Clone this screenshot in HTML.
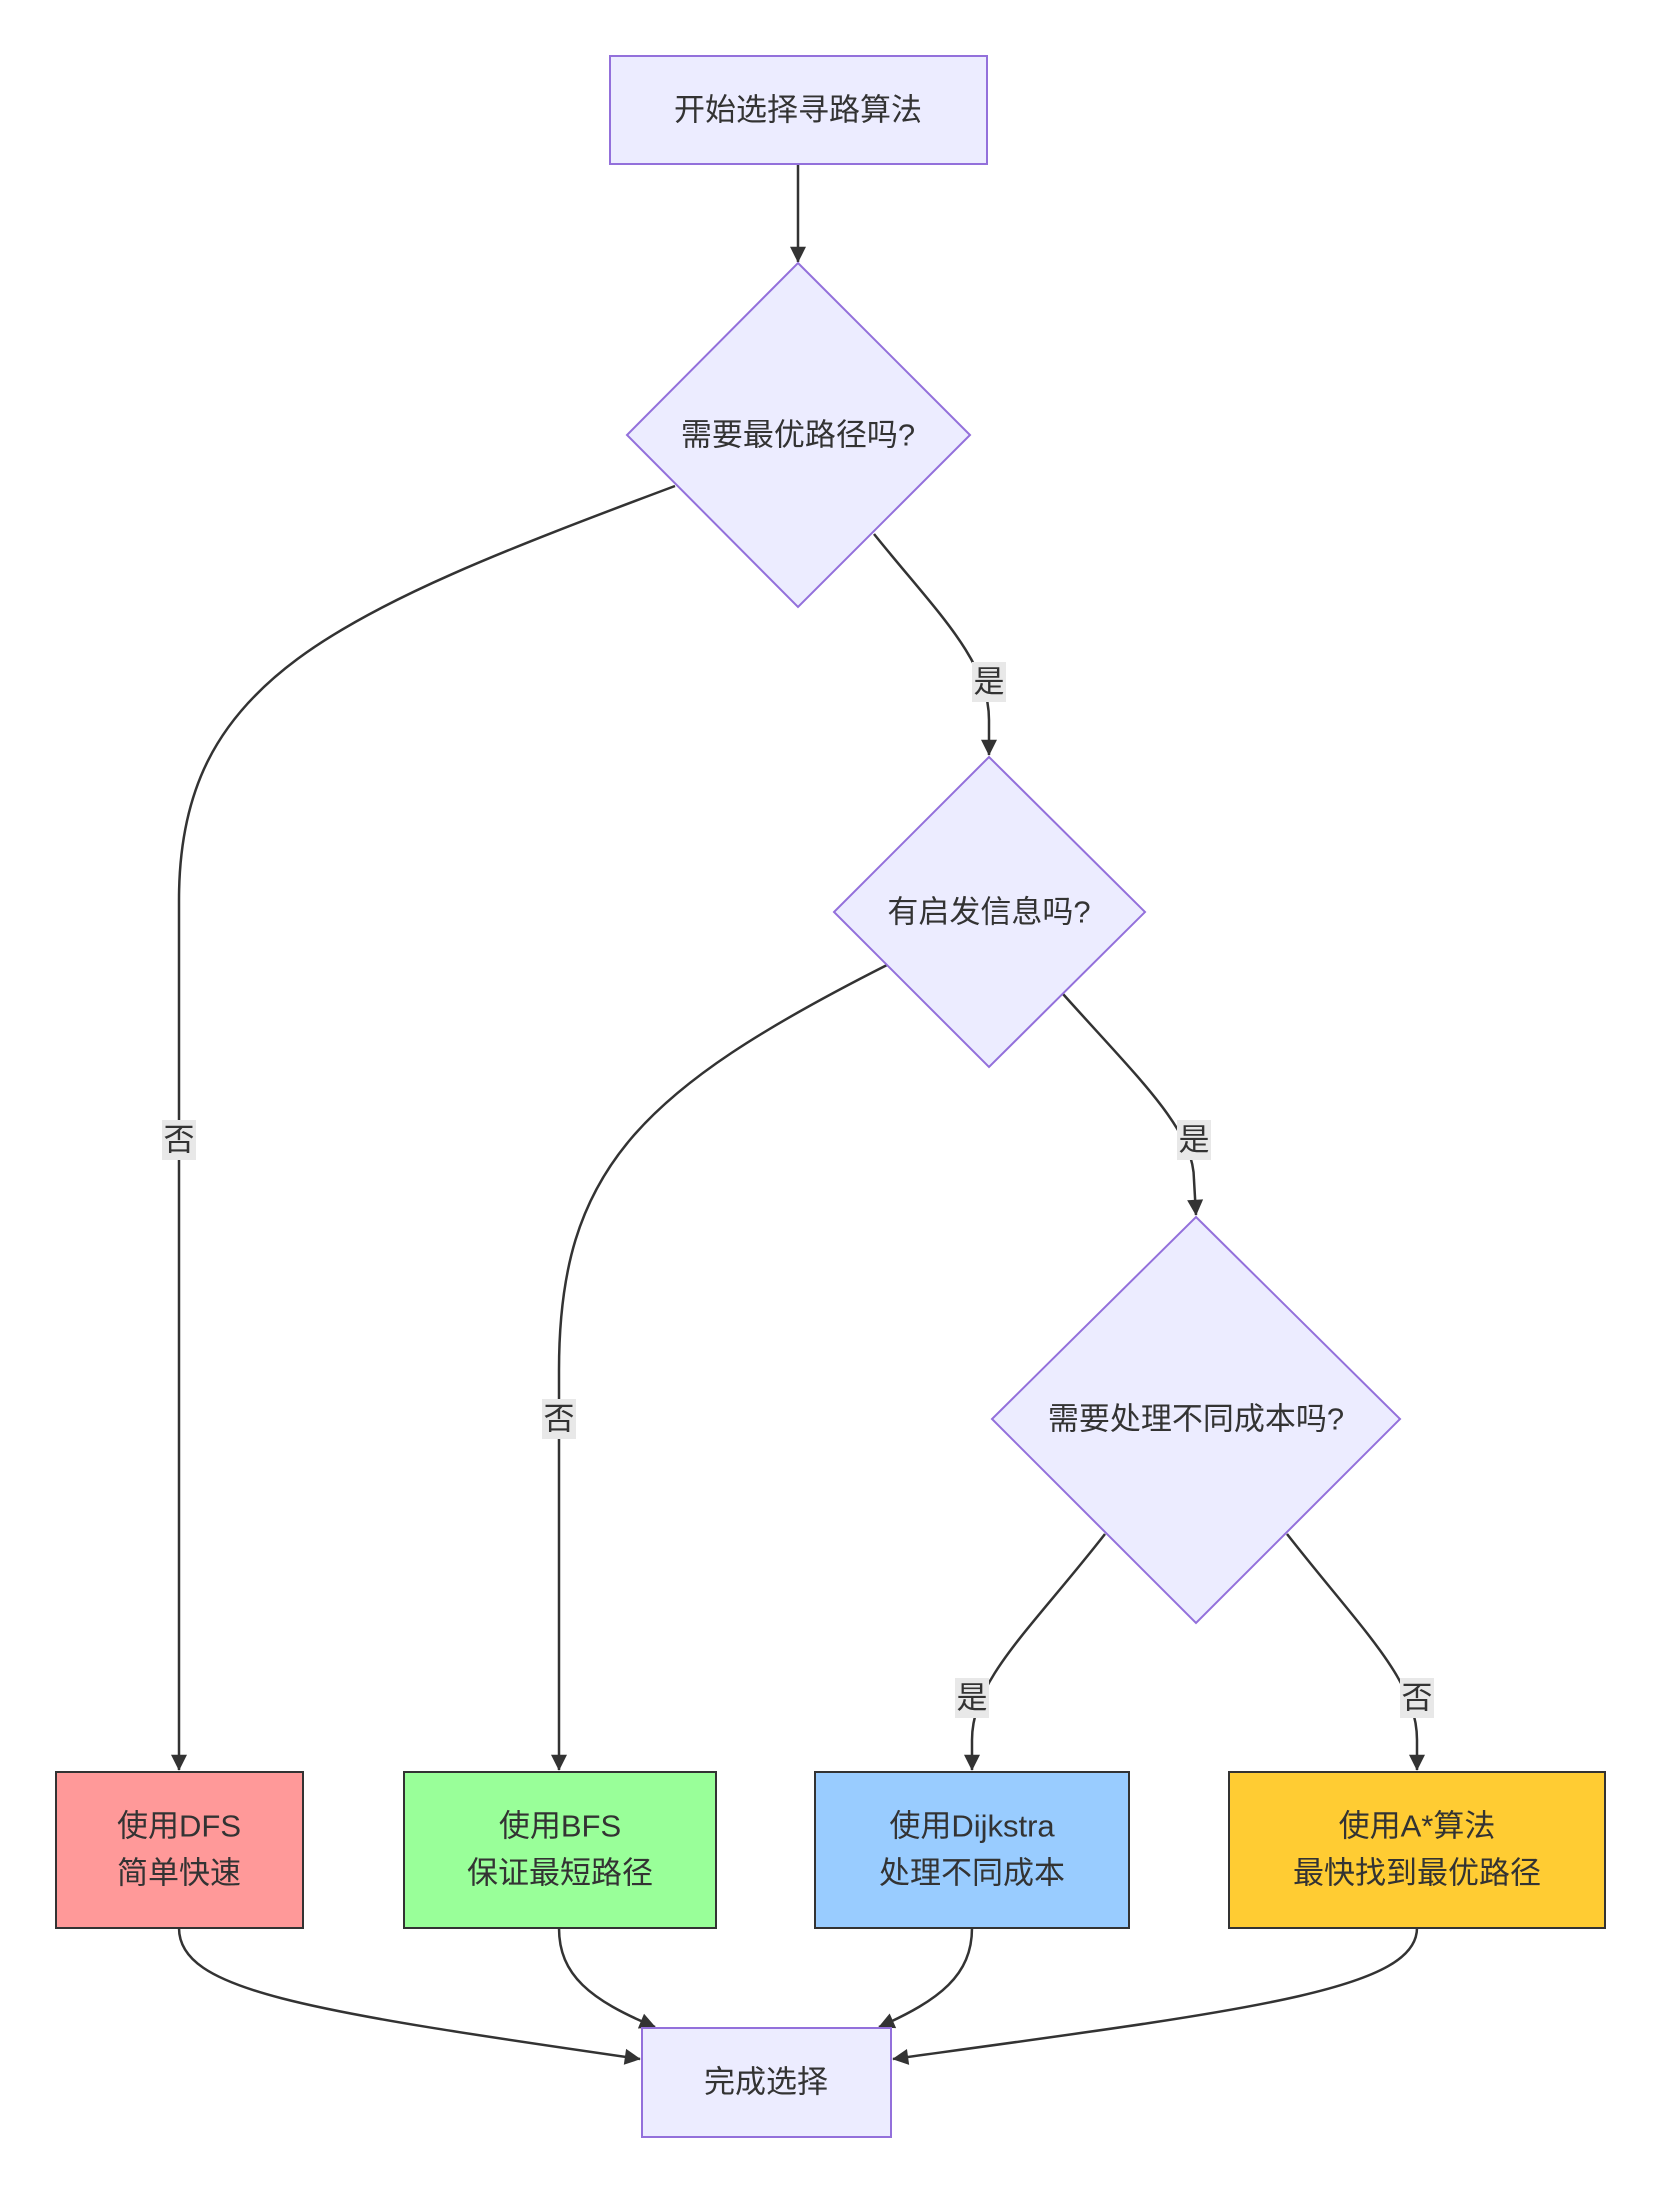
<!DOCTYPE html>
<html><head><meta charset="utf-8"><style>
html,body{margin:0;padding:0;background:#fff;}
svg{display:block;}
text{font-family:"Liberation Sans","Noto Sans CJK SC",sans-serif;fill:#333;font-size:31px;text-anchor:middle;dominant-baseline:central;}
.e{fill:none;stroke:#333;stroke-width:2.5;}
.lb{fill:#e8e8e8;}
</style></head><body>
<svg width="1660" height="2191" viewBox="0 0 1660 2191" xmlns="http://www.w3.org/2000/svg">
<defs><marker id="a" viewBox="0 0 10 10" refX="9" refY="5" markerWidth="8" markerHeight="8" markerUnits="userSpaceOnUse" orient="auto" style="overflow:visible"><path d="M0,0 L10,5 L0,10 z" fill="#333" transform="scale(2)" transform-origin="10 5"/></marker></defs>

<!-- edges -->
<path class="e" d="M798,164 L798,262" marker-end="url(#a)"/>
<path class="e" d="M675,486 C330,615 179,680 179,900 L179,1770" marker-end="url(#a)"/>
<path class="e" d="M874,534 C935,610 989,660 989,720 L989,755" marker-end="url(#a)"/>
<path class="e" d="M887,965 C640,1090 559,1170 559,1370 L559,1770" marker-end="url(#a)"/>
<path class="e" d="M1063,994 C1140,1080 1194,1130 1194,1180 L1196,1215" marker-end="url(#a)"/>
<path class="e" d="M1105,1534 C1030,1630 972,1680 972,1740 L972,1770" marker-end="url(#a)"/>
<path class="e" d="M1287,1534 C1362,1630 1417,1680 1417,1740 L1417,1770" marker-end="url(#a)"/>
<path class="e" d="M179,1928 C179,1990 300,2010 640,2059" marker-end="url(#a)"/>
<path class="e" d="M559,1928 C559,1975 590,2000 655,2027" marker-end="url(#a)"/>
<path class="e" d="M972,1928 C972,1975 940,2000 879,2027" marker-end="url(#a)"/>
<path class="e" d="M1417,1928 C1417,1990 1250,2010 893,2059" marker-end="url(#a)"/>

<!-- edge labels -->
<rect class="lb" x="972" y="662" width="34" height="40"/><text x="989" y="682">是</text>
<rect class="lb" x="162" y="1120" width="34" height="40"/><text x="179" y="1140">否</text>
<rect class="lb" x="1177" y="1120" width="34" height="40"/><text x="1194" y="1140">是</text>
<rect class="lb" x="542" y="1399" width="34" height="40"/><text x="559" y="1419">否</text>
<rect class="lb" x="955" y="1678" width="34" height="40"/><text x="972" y="1698">是</text>
<rect class="lb" x="1400" y="1678" width="34" height="40"/><text x="1417" y="1698">否</text>

<!-- nodes -->
<rect x="610" y="56" width="377" height="108" fill="#ECECFF" stroke="#9370DB" stroke-width="2"/>
<text x="798" y="110">开始选择寻路算法</text>

<polygon points="798,263 970,435 798,607 627,435" fill="#ECECFF" stroke="#9370DB" stroke-width="2"/>
<text x="798" y="435">需要最优路径吗?</text>

<polygon points="989,757 1145,912 989,1067 834,912" fill="#ECECFF" stroke="#9370DB" stroke-width="2"/>
<text x="989" y="912">有启发信息吗?</text>

<polygon points="1196,1217 1400,1419 1196,1623 992,1419" fill="#ECECFF" stroke="#9370DB" stroke-width="2"/>
<text x="1196" y="1419">需要处理不同成本吗?</text>

<rect x="56" y="1772" width="247" height="156" fill="#FF9999" stroke="#333" stroke-width="2"/>
<text x="179" y="1826">使用DFS</text><text x="179" y="1873">简单快速</text>

<rect x="404" y="1772" width="312" height="156" fill="#99FF99" stroke="#333" stroke-width="2"/>
<text x="560" y="1826">使用BFS</text><text x="560" y="1873">保证最短路径</text>

<rect x="815" y="1772" width="314" height="156" fill="#99CCFF" stroke="#333" stroke-width="2"/>
<text x="972" y="1826">使用Dijkstra</text><text x="972" y="1873">处理不同成本</text>

<rect x="1229" y="1772" width="376" height="156" fill="#FFCC33" stroke="#333" stroke-width="2"/>
<text x="1417" y="1826">使用A*算法</text><text x="1417" y="1873">最快找到最优路径</text>

<rect x="642" y="2028" width="249" height="109" fill="#ECECFF" stroke="#9370DB" stroke-width="2"/>
<text x="766" y="2082">完成选择</text>
</svg>
</body></html>
